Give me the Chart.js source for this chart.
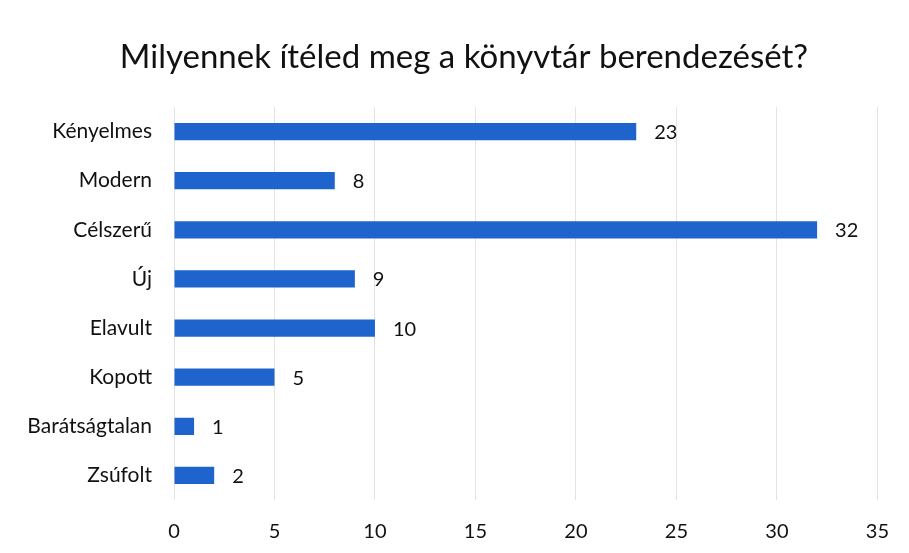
<!DOCTYPE html>
<html>
<head>
<meta charset="utf-8">
<script src="https://cdn.jsdelivr.net/npm/chart.js@4"></script>
<style>
  html, body { margin: 0; padding: 0; background: #fff; }
  #wrap { width: 909px; height: 553px; }
</style>
</head>
<body>
<div id="wrap"><canvas id="chart" width="909" height="553"></canvas></div>
<script>
// data
const categories = ['Kényelmes', 'Modern', 'Célszerű', 'Új', 'Elavult', 'Kopott', 'Barátságtalan', 'Zsúfolt'];
const counts = [23, 8, 32, 9, 10, 5, 1, 2];
const xMax = 35;
const xStep = 5;
const titleText = 'Milyennek ítéled meg a könyvtár berendezését?';

const FONT = 'Lato, "Open Sans", sans-serif';

// title sits a little right of the canvas centre in the original, so draw it by hand
const titlePlugin = {
    id: 'titlePlugin',
    afterDraw(chart) {
        const ctx = chart.ctx;
        ctx.save();
        ctx.font = '33px ' + FONT;
        ctx.fillStyle = '#111';
        ctx.textAlign = 'center';
        ctx.textBaseline = 'middle';
        ctx.fillText(titleText, 464, 57);
        ctx.restore();
    }
};

// value labels at the bar ends
const valueLabels = {
    id: 'valueLabels',
    afterDatasetsDraw(chart) {
        const ctx = chart.ctx;
        const meta = chart.getDatasetMeta(0);
        ctx.save();
        ctx.font = '20px ' + FONT;
        ctx.fillStyle = '#111';
        ctx.textAlign = 'left';
        ctx.textBaseline = 'middle';
        meta.data.forEach((bar, i) => {
            ctx.fillText(String(counts[i]), bar.x + 18, bar.y + 1);
        });
        ctx.restore();
    }
};

new Chart(document.getElementById('chart'), {
    type: 'bar',
    data: {
        labels: categories,
        datasets: [{
            data: counts,
            backgroundColor: '#1f64cc',
            categoryPercentage: 0.35,
            barPercentage: 1
        }]
    },
    options: {
        indexAxis: 'y',
        responsive: false,
        animation: false,
        layout: { padding: { left: 0, right: 28, top: 107, bottom: 0 } },
        plugins: {
            legend: { display: false },
            tooltip: { enabled: false },
            title: { display: false }
        },
        scales: {
            x: {
                min: 0,
                max: xMax,
                ticks: { stepSize: xStep, color: '#111', font: { family: FONT, size: 20 }, padding: 20 },
                grid: { color: '#e4e4e4', drawTicks: false },
                border: { display: false },
                afterFit(s) { s.height = 53; }
            },
            y: {
                ticks: { color: '#111', font: { family: FONT, size: 21 }, padding: 22 },
                grid: { display: false, drawTicks: false },
                border: { display: false },
                afterFit(s) { s.width = 174; }
            }
        }
    },
    plugins: [valueLabels, titlePlugin]
});
</script>
</body>
</html>
